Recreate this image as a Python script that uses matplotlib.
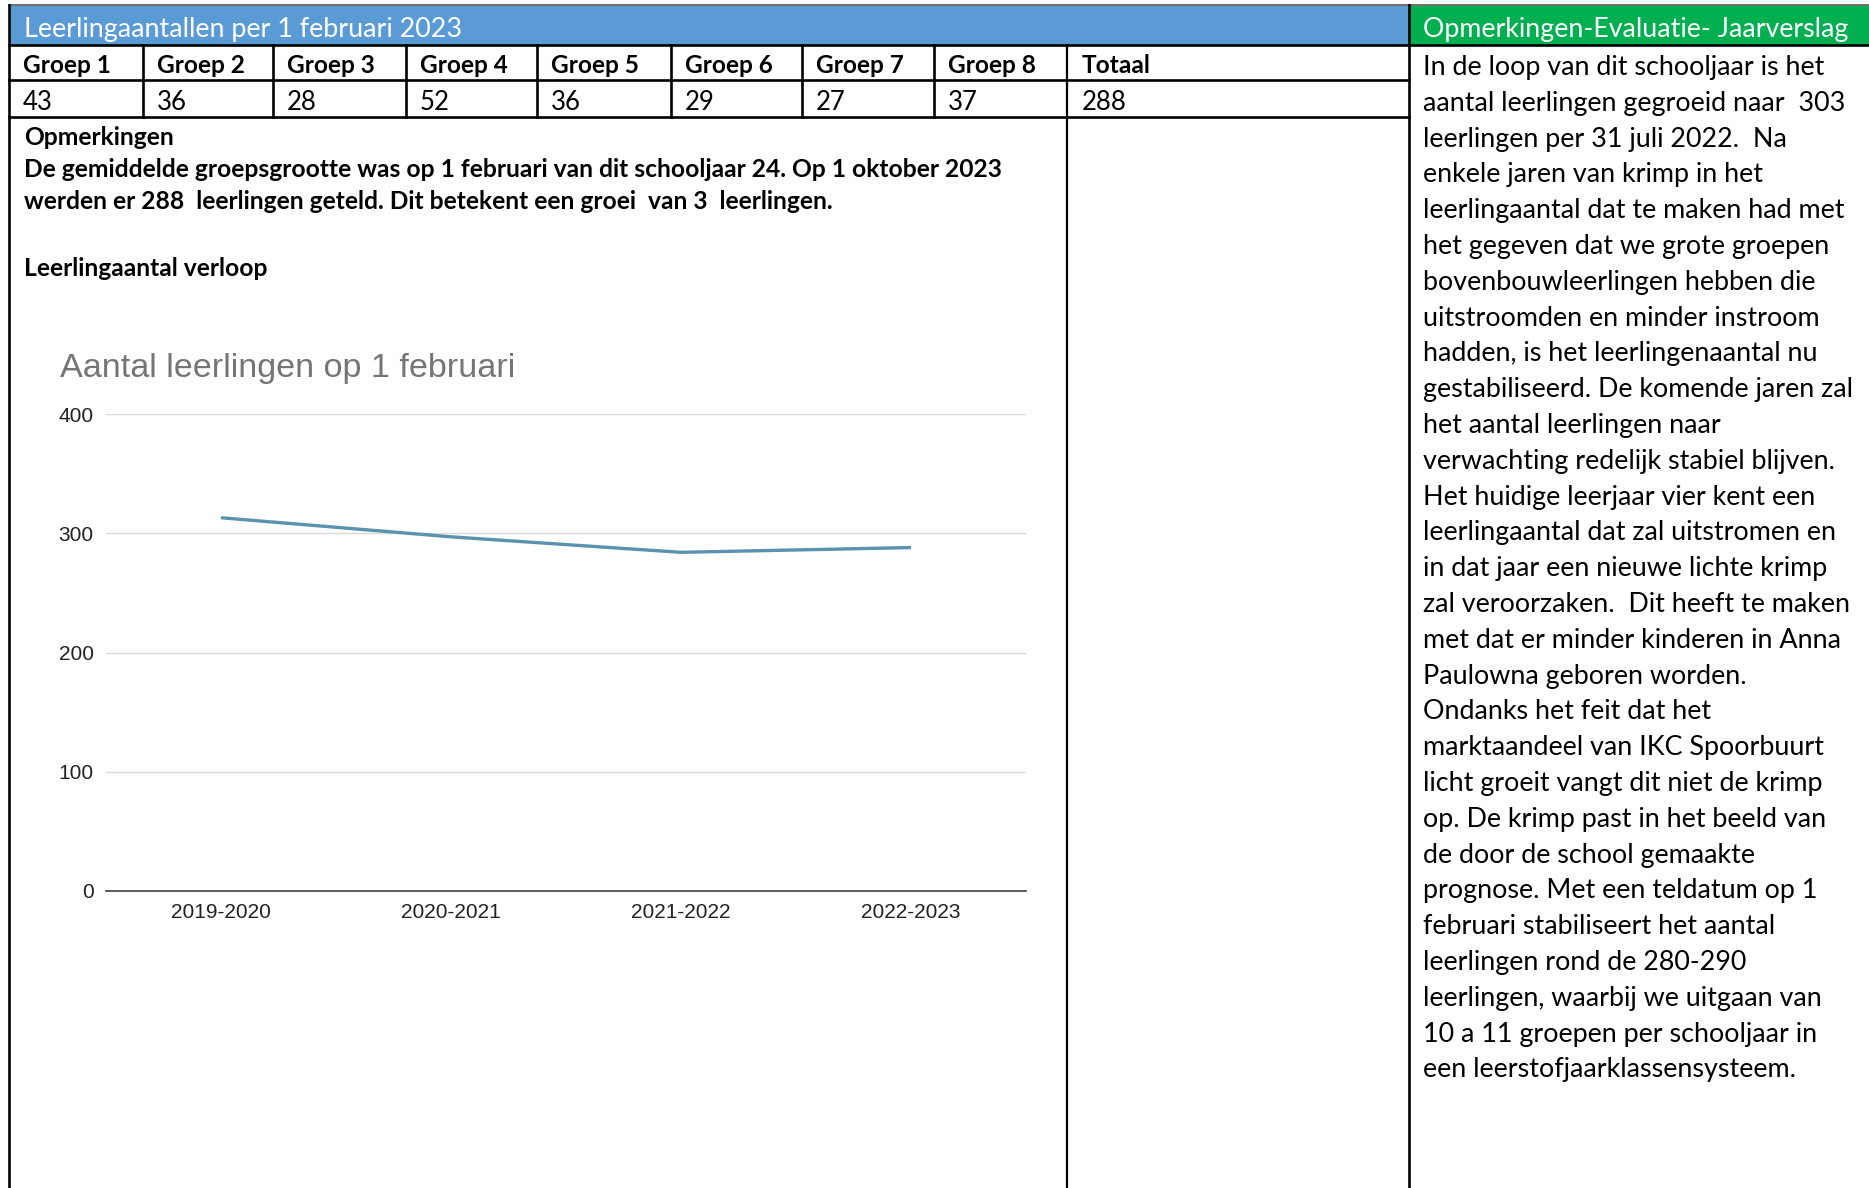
import matplotlib.pyplot as plt

# Leerlingaantallen per groep (1 februari 2023)
groepen = ['Groep 1', 'Groep 2', 'Groep 3', 'Groep 4', 'Groep 5', 'Groep 6', 'Groep 7', 'Groep 8']
aantallen = [43, 36, 28, 52, 36, 29, 27, 37]
totaal = 288

# Verloop leerlingaantal op 1 februari
schooljaren = ['2019-2020', '2020-2021', '2021-2022', '2022-2023']
leerlingen = [313, 297, 284, 288]
y_ticks = [0, 100, 200, 300, 400]

opmerkingen = [
    'In de loop van dit schooljaar is het',
    'aantal leerlingen gegroeid naar  303',
    'leerlingen per 31 juli 2022.  Na',
    'enkele jaren van krimp in het',
    'leerlingaantal dat te maken had met',
    'het gegeven dat we grote groepen',
    'bovenbouwleerlingen hebben die',
    'uitstroomden en minder instroom',
    'hadden, is het leerlingenaantal nu',
    'gestabiliseerd. De komende jaren zal',
    'het aantal leerlingen naar',
    'verwachting redelijk stabiel blijven.',
    'Het huidige leerjaar vier kent een',
    'leerlingaantal dat zal uitstromen en',
    'in dat jaar een nieuwe lichte krimp',
    'zal veroorzaken.  Dit heeft te maken',
    'met dat er minder kinderen in Anna',
    'Paulowna geboren worden.',
    'Ondanks het feit dat het',
    'marktaandeel van IKC Spoorbuurt',
    'licht groeit vangt dit niet de krimp',
    'op. De krimp past in het beeld van',
    'de door de school gemaakte',
    'prognose. Met een teldatum op 1',
    'februari stabiliseert het aantal',
    'leerlingen rond de 280-290',
    'leerlingen, waarbij we uitgaan van',
    '10 a 11 groepen per schooljaar in',
    'een leerstofjaarklassensysteem.',
]

W, H = 1869, 1188
fig = plt.figure(figsize=(W / 100, H / 100), dpi=100)

# background axes in pixel coordinates for the table layout
bg = fig.add_axes([0, 0, 1, 1])
bg.set_xlim(0, W)
bg.set_ylim(H, 0)
bg.axis('off')

blue = '#5B9BD5'
green = '#00B050'
bg.add_patch(plt.Rectangle((9, 6), 1400, 39, color=blue, lw=0))
bg.add_patch(plt.Rectangle((1409, 6), W - 1409, 39, color=green, lw=0))

lw = 1.9
col_x = [9, 143, 273, 406, 537, 671, 802, 934, 1067]
bg.plot([9, W], [5, 5], color='#555555', lw=1.2)
bg.plot([9, W], [45, 45], color='black', lw=lw)
bg.plot([9, 1409], [80, 80], color='black', lw=lw)
bg.plot([9, 1409], [117, 117], color='black', lw=lw)
bg.plot([9, 9], [5, H], color='black', lw=lw)
bg.plot([1409, 1409], [5, H], color='black', lw=lw)
bg.plot([1067, 1067], [45, H], color='black', lw=1.6)
for x in col_x[1:-1]:
    bg.plot([x, x], [45, 117], color='black', lw=lw)

font = 'Lato'
bg.text(24, 37, 'Leerlingaantallen per 1 februari 2023', color='white', fontsize=19.4,
        family=font, va='baseline')
bg.text(1423, 37, 'Opmerkingen-Evaluatie- Jaarverslag', color='white', fontsize=19.3,
        family=font, va='baseline')

for x, g, n in zip(col_x, groepen, aantallen):
    bg.text(x + 14, 73, g, fontsize=17.6, weight='bold', family=font, va='baseline')
    bg.text(x + 14, 110, str(n), fontsize=18.5, family=font, va='baseline')
bg.text(col_x[-1] + 15, 73, 'Totaal', fontsize=17.6, weight='bold', family=font, va='baseline')
bg.text(col_x[-1] + 15, 110, str(totaal), fontsize=18.5, family=font, va='baseline')

bold_size = 17.75
bg.text(24, 145, 'Opmerkingen', fontsize=bold_size, weight='bold', family=font, va='baseline')
bg.text(24, 177, 'De gemiddelde groepsgrootte was op 1 februari van dit schooljaar 24. '
        'Op 1 oktober 2023', fontsize=bold_size, weight='bold', family=font, va='baseline')
bg.text(24, 209, 'werden er 288  leerlingen geteld. Dit betekent een groei  van 3  leerlingen.',
        fontsize=bold_size, weight='bold', family=font, va='baseline')
bg.text(24, 276, 'Leerlingaantal verloop', fontsize=bold_size, weight='bold', family=font,
        va='baseline')

for i, line in enumerate(opmerkingen):
    bg.text(1423, 75 + 35.8 * i, line, fontsize=19.4, family=font, va='baseline')

# chart
bg.text(60, 377, 'Aantal leerlingen op 1 februari', fontsize=24.6, color='#757575',
        family='Liberation Sans', va='baseline')

ax = fig.add_axes([106 / W, 1 - 891 / H, (1026 - 106) / W, (891 - 414) / H])
ax.set_facecolor('none')
ax.plot(range(len(schooljaren)), leerlingen, color='#5A92AF', lw=2.4, solid_capstyle='butt')
ax.set_xlim(-0.5, len(schooljaren) - 0.5)
ax.set_ylim(0, 400)
ax.set_yticks(y_ticks)
ax.set_xticks(range(len(schooljaren)))
ax.set_xticklabels(schooljaren)
ax.grid(axis='y', color='#D9D9D9', lw=1)
ax.set_axisbelow(True)
for s in ['top', 'right', 'left']:
    ax.spines[s].set_visible(False)
ax.spines['bottom'].set_color('#404040')
ax.spines['bottom'].set_linewidth(1.2)
ax.tick_params(length=0, labelsize=15, colors='#222222', pad=9)
for lab in ax.get_xticklabels() + ax.get_yticklabels():
    lab.set_family('Liberation Sans')

fig.savefig('out.png', dpi=100)
